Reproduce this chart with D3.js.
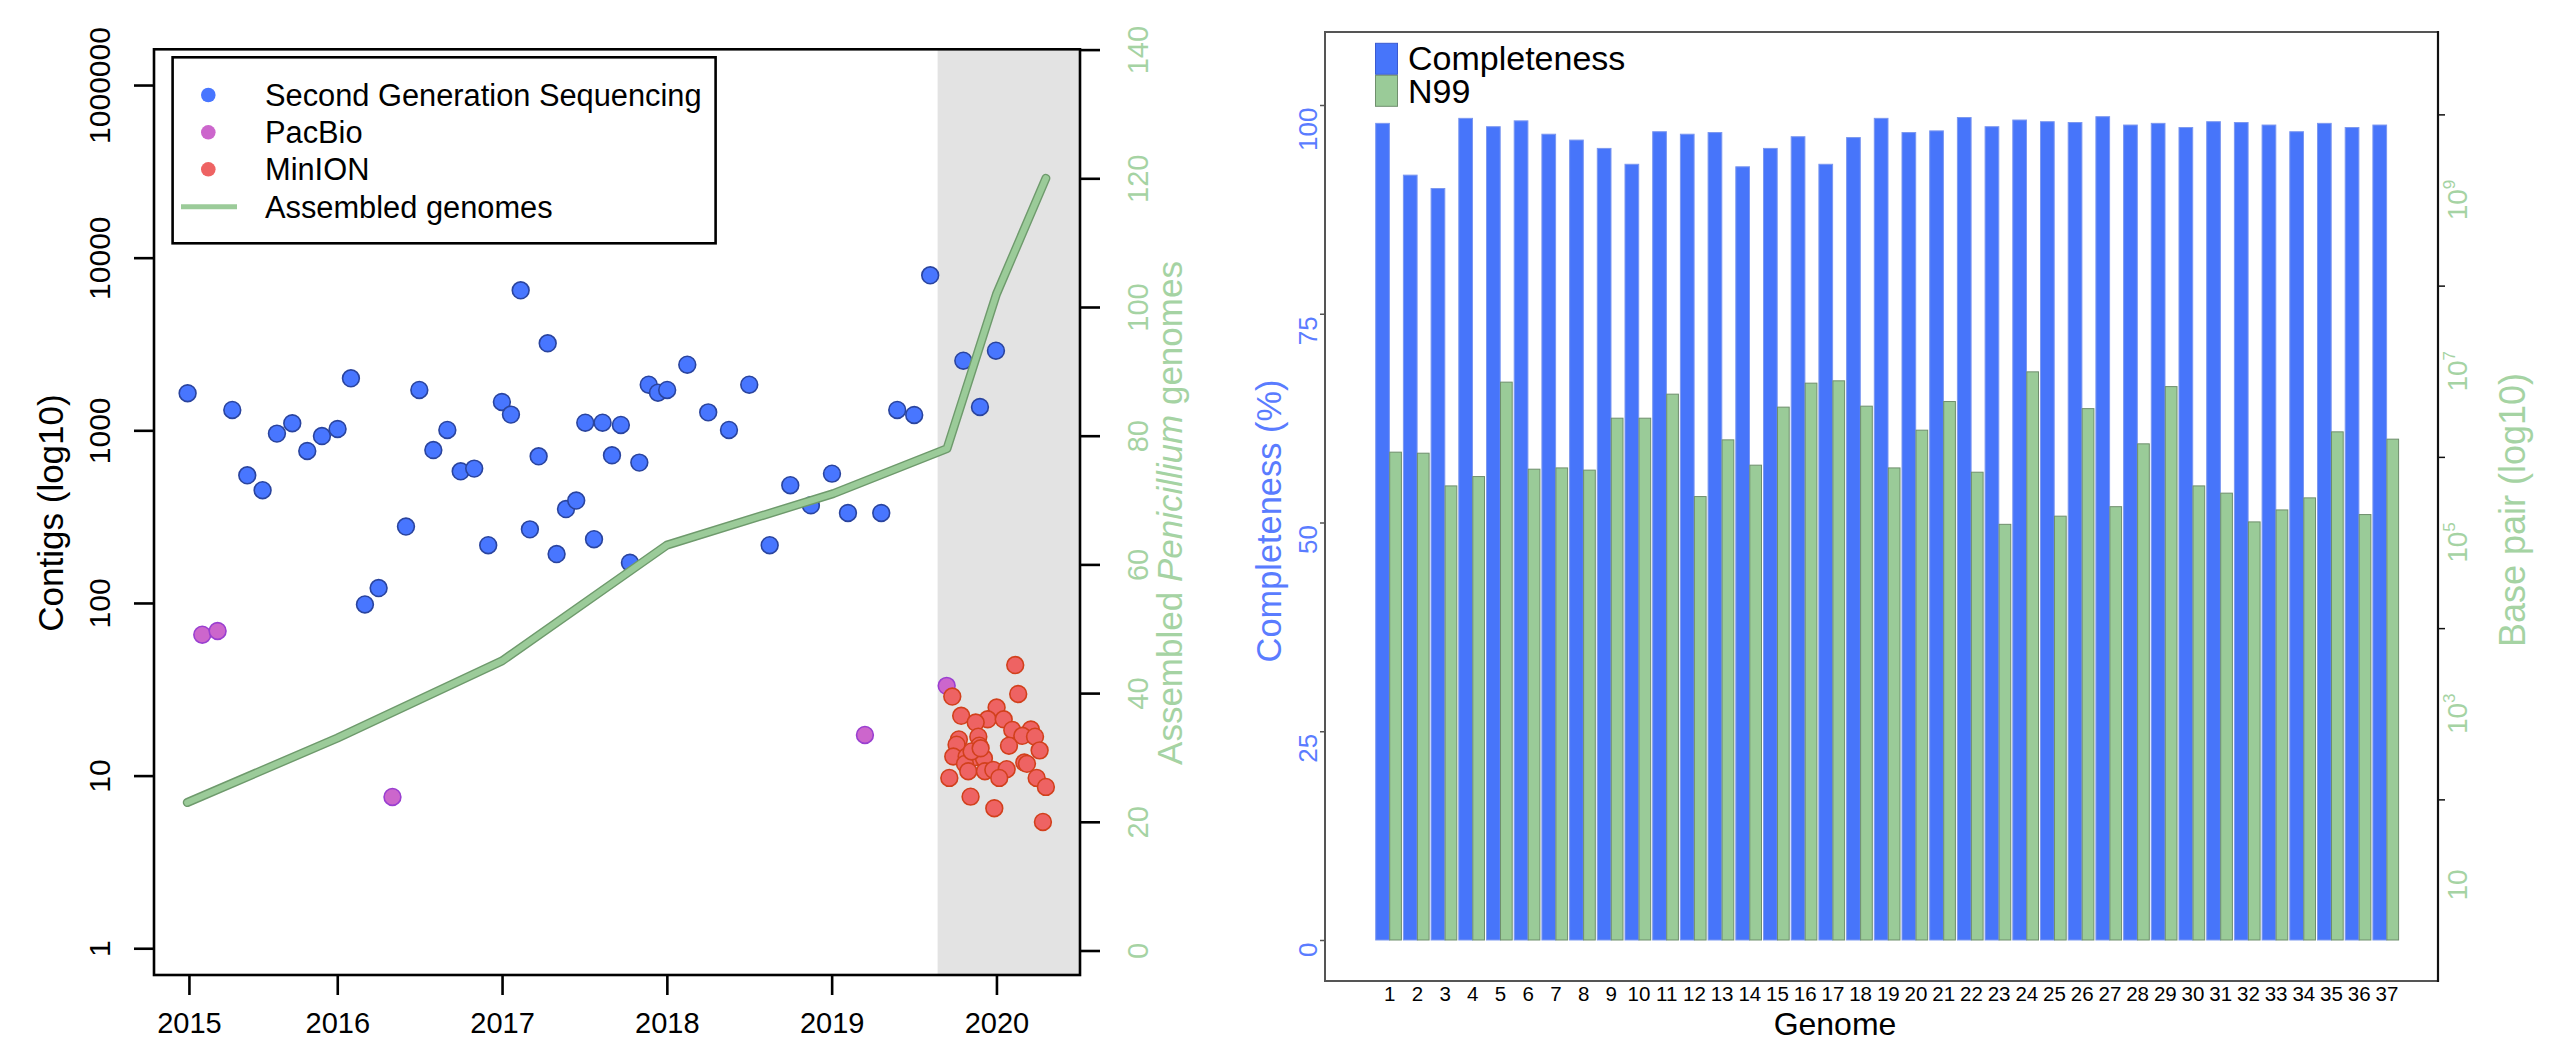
<!DOCTYPE html>
<html><head><meta charset="utf-8">
<script src="https://cdn.jsdelivr.net/npm/d3@7"></script>
<style>
body{margin:0;background:#fff}
svg{display:block}
text{font-family:"Liberation Sans",Arial,Helvetica,sans-serif}
</style>
</head><body>
<svg id="c" width="2575" height="1042"></svg>
<script>
// ---------------- LEFT PANEL DATA ----------------
const sgsYear = [2015.092,2015.363,2015.454,2015.547,2015.634,2015.727,2015.818,2015.907,2016.002,2016.083,
  2016.168,2016.251,2016.417,2016.498,2016.583,2016.668,2016.749,2016.831,2016.916,2016.999,
  2017.054,2017.113,2017.169,2017.222,2017.277,2017.331,2017.388,2017.450,2017.505,2017.610,
  2017.721,2017.667,2017.833,2017.558,2017.776,2017.890,2017.946,2018.002,2018.124,2018.251,
  2018.377,2018.500,2018.624,2018.749,2018.874,2019.002,2019.099,2019.301,2019.398,2019.501,
  2019.598,2019.799,2019.900,2019.997];
const sgsContigs = [1640,1312,549,450,957,1099,759,927,1018,2001,
  98,122,277,1713,769,1005,579,600,216,1459,
  1233,6470,267,707,3193,192,350,392,1107,1107,
  1074,717,650,234,171,1838,1652,1713,2399,1271,
  1005,1838,216,481,368,561,332,332,1312,1227,
  7907,2531,1365,2892];
const pacYear = [2015.181,2015.274,2016.335,2019.202,2019.698];
const pacContigs = [65.5,68.8,7.52,17.2,33.1];
const minYear = [2020.114,2020.132,2019.732,2019.786,2020.001,2019.947,2019.874,2020.044,2020.096,2020.209,
  2020.157,2020.234,2019.890,2019.772,2019.758,2020.076,2020.262,2019.896,2019.738,2019.819,
  2019.870,2019.924,2019.809,2019.829,2019.930,2019.981,2020.062,2020.017,2020.169,2020.185,
  2020.244,2020.300,2019.714,2019.843,2019.987,2020.282,2019.849,2019.904];
const minContigs = [43.7,29.7,28.7,22.2,24.8,21.2,20.3,21.2,18.4,18.5,
  17.0,16.8,16.8,16.2,15.1,14.9,14.0,14.9,12.9,12.9,
  12.8,12.6,11.7,10.6,10.6,10.8,10.9,9.7,11.9,11.7,
  9.7,8.6,9.7,7.55,6.47,5.39,13.8,14.4];
const genomeYear = [2015.09,2016.0,2017.0,2018.0,2019.01,2019.70,2020.0,2020.3];
const genomeCount = [23,33,45,63,71,78,102,120];
const xTickValues = [2015.1,2016,2017,2018,2019,2020];
const xTickLabels = ["2015","2016","2017","2018","2019","2020"];
const yTickValues = [1,10,100,1000,10000,100000];
const yTickLabels = ["1","10","100","1000","10000","1000000"];
const rTickValues = [0,20,40,60,80,100,120,140];
const shadeStart = 2019.643;
const legendLabels = ["Second Generation Sequencing","PacBio","MinION","Assembled genomes"];

// ---------------- RIGHT PANEL DATA ----------------
const genomes = ["1","2","3","4","5","6","7","8","9","10","11","12","13","14","15","16","17","18","19","20",
  "21","22","23","24","25","26","27","28","29","30","31","32","33","34","35","36","37"];
const completeness = [97.8,91.6,90.0,98.4,97.4,98.1,96.5,95.8,94.8,92.9,96.8,96.5,96.7,92.6,94.8,96.2,92.9,96.1,98.4,96.7,
  96.9,98.5,97.4,98.2,98.0,97.9,98.6,97.6,97.8,97.3,98.0,97.9,97.6,96.8,97.8,97.3,97.6];
const n99 = [1.135e6,1.104e6,4.58e5,5.89e5,7.46e6,7.18e5,7.43e5,7.00e5,2.83e6,2.83e6,
  5.40e6,3.44e5,1.58e6,8.00e5,3.81e6,7.26e6,7.73e6,3.91e6,7.43e5,2.05e6,
  4.43e6,6.62e5,1.63e5,9.84e6,2.03e5,3.66e6,2.62e5,1.42e6,6.62e6,4.58e5,
  3.77e5,1.74e5,2.40e5,3.32e5,1.96e6,2.12e5,1.61e6];
const compTicks = [0,25,50,75,100];
const bpTickMarks = [1e2,1e4,1e6,1e8,1e10];
const bpLabelValues = [1e1,1e3,1e5,1e7,1e9];
const bpLabelExp = ["","3","5","7","9"];
const barLegend = ["Completeness","N99"];

// ---------------- STYLE ----------------
const C = {
  blue:"#4876FF", blueStroke:"#2a449e",
  pink:"#CC66CC", pinkStroke:"#9a3fd0",
  red:"#EE6363", redStroke:"#d2401c",
  lineFill:"#9BCB99", lineEdge:"#6e9a6c",
  shade:"#E3E3E3",
  gAxis:"#a5d3a3",
  barBlue:"#4775FA", barBlueStroke:"#7b97f0",
  barGreen:"#9ACB98", barGreenStroke:"#6f8f6d",
  axisBlue:"#5a7cff"
};

const svg = d3.select("#c");

// ================= LEFT PANEL =================
const L = {x0:154, x1:1080, y0:49.3, y1:975};
const x = d3.scaleLinear().domain([2014.888, 2020.507]).range([L.x0, L.x1]);
const y = d3.scaleLog().domain([Math.pow(10,-0.155), Math.pow(10,5.207)]).range([L.y1, L.y0]);
const yR = d3.scaleLinear().domain([0,140]).range([950.5, 49.6]);

const gL = svg.append("g");
gL.append("rect").attr("x", x(shadeStart)).attr("y", L.y0)
  .attr("width", L.x1 - x(shadeStart)).attr("height", L.y1 - L.y0).attr("fill", C.shade);

function pts(xs, ys, fill, stroke){
  gL.append("g").selectAll("circle").data(xs.map((d,i)=>[d, ys[i]])).join("circle")
    .attr("cx", d=>x(d[0])).attr("cy", d=>y(d[1])).attr("r", 8.4)
    .attr("fill", fill).attr("stroke", stroke).attr("stroke-width", 1.6);
}
pts(sgsYear, sgsContigs, C.blue, C.blueStroke);
pts(pacYear, pacContigs, C.pink, C.pinkStroke);
pts(minYear, minContigs, C.red, C.redStroke);

const lineData = genomeYear.map((d,i)=>[d, genomeCount[i]]);
const lineGen = d3.line().x(d=>x(d[0])).y(d=>yR(d[1]));
gL.append("path").attr("d", lineGen(lineData)).attr("fill","none")
  .attr("stroke", C.lineEdge).attr("stroke-width", 9).attr("stroke-linejoin","round").attr("stroke-linecap","round");
gL.append("path").attr("d", lineGen(lineData)).attr("fill","none")
  .attr("stroke", C.lineFill).attr("stroke-width", 6.2).attr("stroke-linejoin","round").attr("stroke-linecap","round");

gL.append("rect").attr("x", L.x0).attr("y", L.y0).attr("width", L.x1-L.x0).attr("height", L.y1-L.y0)
  .attr("fill","none").attr("stroke","#000").attr("stroke-width", 2.6);

// left axis
const axL = d3.axisLeft(y).tickValues(yTickValues).tickFormat((d,i)=>yTickLabels[i]).tickSize(20).tickSizeOuter(0);
const gAxL = gL.append("g").attr("transform", `translate(${L.x0},0)`).call(axL);
gAxL.select(".domain").remove();
gAxL.selectAll(".tick line").attr("stroke","#000").attr("stroke-width",2.6);
gAxL.selectAll(".tick text").attr("font-size",30).attr("fill","#000")
  .attr("x",null).attr("dy",null).attr("text-anchor","middle")
  .attr("transform", `translate(${110-L.x0},0) rotate(-90)`);

// bottom axis
const axB = d3.axisBottom(x).tickValues(xTickValues).tickFormat((d,i)=>xTickLabels[i]).tickSize(20).tickSizeOuter(0);
const gAxB = gL.append("g").attr("transform", `translate(0,${L.y1})`).call(axB);
gAxB.select(".domain").remove();
gAxB.selectAll(".tick line").attr("stroke","#000").attr("stroke-width",2.6);
gAxB.selectAll(".tick text").attr("font-size",29).attr("fill","#000").attr("y",58).attr("dy",null);

// right axis
const axR = d3.axisRight(yR).tickValues(rTickValues).tickSize(20).tickSizeOuter(0);
const gAxR = gL.append("g").attr("transform", `translate(${L.x1},0)`).call(axR);
gAxR.select(".domain").remove();
gAxR.selectAll(".tick line").attr("stroke","#000").attr("stroke-width",2.6);
gAxR.selectAll(".tick text").attr("font-size",29).attr("fill",C.gAxis)
  .attr("x",null).attr("dy",null).attr("text-anchor","middle")
  .attr("transform", `translate(${1148-L.x1},0) rotate(-90)`);

// axis titles
gL.append("text").attr("transform","translate(63,513) rotate(-90)").attr("text-anchor","middle")
  .attr("font-size",35).attr("fill","#000").text("Contigs (log10)");
const tR = gL.append("text").attr("transform","translate(1182,513) rotate(-90)").attr("text-anchor","middle")
  .attr("font-size",35).attr("fill",C.gAxis);
tR.append("tspan").text("Assembled ");
tR.append("tspan").attr("font-style","italic").text("Penicillium");
tR.append("tspan").text(" genomes");

// legend
const lg = gL.append("g");
lg.append("rect").attr("x",172.6).attr("y",57.3).attr("width",543).attr("height",186)
  .attr("fill","#fff").attr("stroke","#000").attr("stroke-width",2.6);
const legCols = [C.blue, C.pink, C.red];
const rowY = [95,132.3,169.3,206.7];
legCols.forEach((c,i)=>{
  lg.append("circle").attr("cx",208.3).attr("cy",rowY[i]).attr("r",7.3).attr("fill",c);
});
lg.append("line").attr("x1",181).attr("x2",237).attr("y1",rowY[3]).attr("y2",rowY[3])
  .attr("stroke",C.lineFill).attr("stroke-width",5);
legendLabels.forEach((t,i)=>{
  lg.append("text").attr("x",265).attr("y",rowY[i]+11).attr("font-size",30.8).attr("fill","#000").text(t);
});

// ================= RIGHT PANEL =================
const R = {x0:1325, x1:2438, y0:32, y1:981};
const xb = d3.scaleBand().domain(genomes).range([1375.7, 2398.6]).paddingInner(0.072).paddingOuter(0);
const yc = d3.scaleLinear().domain([0,100]).range([940,105]);
const yb = d3.scaleLog().domain([10,1e9]).range([885,200]);
const base = yc(0);
const bw = xb.bandwidth();
const blueW = bw*0.533, greenOff = bw*0.545, greenW = bw*0.455;

const gR = svg.append("g");
gR.append("g").selectAll("rect").data(genomes).join("rect")
  .attr("x", d=>xb(d)).attr("width", blueW)
  .attr("y", (d,i)=>yc(completeness[i])).attr("height",(d,i)=>base - yc(completeness[i]))
  .attr("fill", C.barBlue).attr("stroke", C.barBlueStroke).attr("stroke-width",1);
gR.append("g").selectAll("rect").data(genomes).join("rect")
  .attr("x", d=>xb(d)+greenOff).attr("width", greenW)
  .attr("y", (d,i)=>yb(n99[i])).attr("height",(d,i)=>base - yb(n99[i]))
  .attr("fill", C.barGreen).attr("stroke", C.barGreenStroke).attr("stroke-width",1);

gR.append("path").attr("d",`M${R.x1},${R.y0}H${R.x0}V${R.y1}H${R.x1}`).attr("fill","none")
  .attr("stroke","#555").attr("stroke-width",2);
gR.append("line").attr("x1",R.x1).attr("x2",R.x1).attr("y1",R.y0-1).attr("y2",R.y1+1)
  .attr("stroke","#111").attr("stroke-width",2.2);

// left axis (completeness)
const axC = d3.axisLeft(yc).tickValues(compTicks).tickSize(5).tickSizeOuter(0);
const gAxC = gR.append("g").attr("transform",`translate(${R.x0},0)`).call(axC);
gAxC.select(".domain").remove();
gAxC.selectAll(".tick line").attr("stroke","#555").attr("stroke-width",1.5);
gAxC.selectAll(".tick text").attr("font-size",26).attr("fill",C.axisBlue)
  .attr("x",null).attr("dy",null).attr("text-anchor","end")
  .attr("transform",`translate(${1317-R.x0},2) rotate(-90)`);

// x labels
const axX = d3.axisBottom(xb).tickSize(0).tickSizeOuter(0);
const gAxX = gR.append("g").attr("transform",`translate(0,${R.y1})`).call(axX);
gAxX.select(".domain").remove();
gAxX.selectAll(".tick").attr("transform", d=>`translate(${xb(d)+blueW+0.3},0)`);
gAxX.selectAll(".tick text").attr("font-size",20.5).attr("fill","#000").attr("y",20).attr("dy",null);

// right axis (log bp)
const axBp = d3.axisRight(yb).tickValues(bpTickMarks).tickFormat("").tickSize(7).tickSizeOuter(0);
const gAxBp = gR.append("g").attr("transform",`translate(${R.x1},0)`).call(axBp);
gAxBp.select(".domain").remove();
gAxBp.selectAll(".tick line").attr("stroke","#111").attr("stroke-width",1.5);
const bpl = gR.append("g").selectAll("text").data(bpLabelValues).join("text")
  .attr("transform", d=>`translate(2467,${yb(d)}) rotate(-90)`).attr("text-anchor","middle")
  .attr("font-size",28).attr("fill",C.gAxis);
bpl.append("tspan").text("10");
bpl.append("tspan").attr("font-size",17).attr("dy",-12).text((d,i)=>bpLabelExp[i]);

// titles
gR.append("text").attr("transform","translate(1281,521) rotate(-90)").attr("text-anchor","middle")
  .attr("font-size",34.4).attr("fill",C.axisBlue).text("Completeness (%)");
gR.append("text").attr("transform","translate(2525,510) rotate(-90)").attr("text-anchor","middle")
  .attr("font-size",36).attr("fill",C.gAxis).text("Base pair (log10)");
gR.append("text").attr("x",1835).attr("y",1035).attr("text-anchor","middle")
  .attr("font-size",32).attr("fill","#000").text("Genome");

// legend
const lgR = gR.append("g");
lgR.append("rect").attr("x",1375.5).attr("y",43.3).attr("width",22).attr("height",31)
  .attr("fill",C.barBlue).attr("stroke","#3a5ad0").attr("stroke-width",1);
lgR.append("rect").attr("x",1375.5).attr("y",75.3).attr("width",22).attr("height",31)
  .attr("fill",C.barGreen).attr("stroke",C.barGreenStroke).attr("stroke-width",1);
lgR.append("text").attr("x",1408).attr("y",70).attr("font-size",34).attr("fill","#000").text(barLegend[0]);
lgR.append("text").attr("x",1408).attr("y",103).attr("font-size",34).attr("fill","#000").text(barLegend[1]);
</script>
</body></html>
